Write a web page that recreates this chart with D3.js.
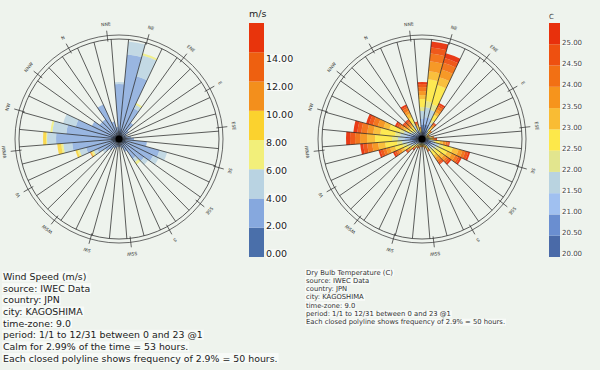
<!DOCTYPE html>
<html>
<head>
<meta charset="utf-8">
<script src="https://cdn.jsdelivr.net/npm/d3@7"></script>
<style>
  body { margin: 0; background: #eef3ed; }
  svg { display: block; font-family: "DejaVu Sans", Verdana, sans-serif; }
</style>
</head>
<body>
<div id="chart"></div>
<script>
// wind directions (deg), one petal each
var directions = [0, 10, 20, 30, 40, 50, 60, 70, 80, 90, 100, 110, 120, 130, 140, 150, 160, 170,
                  180, 190, 200, 210, 220, 230, 240, 250, 260, 270, 280, 290, 300, 310, 320, 330, 340, 350];
var compassLabels = ["N", "NNE", "NE", "ENE", "E", "ESE", "SE", "SSE",
                     "S", "SSW", "SW", "WSW", "W", "WNW", "NW", "NNW"];

// wind speed classes (m/s) 0-2 ... 14-16
var speedTicks = ["0.00", "2.00", "4.00", "6.00", "8.00", "10.00", "12.00", "14.00"];
var speedColors = ["#4a6faa", "#86a8de", "#b9d3e2", "#f2ef7a", "#fbd22e", "#f38f1c", "#ee6010", "#e8340c"];

// dry bulb classes (C) 20.0 ... 25.0
var tempTicks = ["20.00", "20.50", "21.00", "21.50", "22.00", "22.50", "23.00", "23.50", "24.00", "24.50", "25.00"];
var tempColors = ["#4a6aa8", "#6a8ed0", "#a0c0f0", "#b9d3e0", "#e2e58e", "#fde84a",
                  "#f9bc34", "#f6941c", "#f27014", "#ee5010", "#e8300c"];

// hours per speed class, per direction
var windHours = [
  [3, 16], [2, 7], [2, 4], [4, 23.5, 1], [5, 37.5, 6.5], [4, 28.5, 11, 1], [3, 14, 2, 1], [2.5, 7.5],
  [2, 4], [1.5, 2.5], [1.5, 2.5], [2, 4], [2.5, 5], [3, 11], [4, 17, 4], [4, 15, 3], [3.5, 12, 2.5],
  [3, 9, 2, 1.5], [2, 5], [2, 3], [1.5, 2.5], [1.5, 2.5], [1.5, 2.5], [1.5, 3.5], [1.5, 3.5], [2, 5],
  [2.5, 6, 1.5], [3, 9, 2, 1, 0.5, 0.5], [3.5, 13.5, 3.5, 1, 1], [4, 19.5, 4.5, 1, 2],
  [4, 27.5, 4.5, 0.5, 1.5], [4, 22.5, 7, 1], [3.5, 19, 6.5], [3, 12], [2.5, 9.5], [2.5, 9.5]
];

// hours per temperature class, per direction
var tempHours = [
  [2, 2, 1.5, 2, 1.5, 3, 2, 1.5, 1.5, 1, 1],
  [1.5, 1, 1, 1, 0.5, 1, 1, 0.5, 0.5, 0.5, 0.5],
  [1, 1, 0.5, 0.5, 0.5, 1, 0.5, 0.5, 0.5],
  [3.5, 3.5, 3, 4, 2, 4, 2, 2, 2, 1.5, 1],
  [4, 3.5, 3.5, 5, 3, 11, 4, 5, 4, 3, 3],
  [4, 3.5, 3.5, 4, 3, 10, 4, 4, 3.5, 2.5, 2.5],
  [2.5, 2.5, 2, 2, 1.5, 3, 1.5, 1.5, 1.5, 1, 1],
  [1.5, 1, 1, 1, 0.5, 1.5, 1, 1, 0.5, 0.5, 0.5],
  [1, 1, 0.5, 0.5, 0.5, 1, 0.5, 0.5, 0.5],
  [0.5, 0.5, 0.5, 0.5, 0.5, 0.5, 0.5, 0.5],
  [0.5, 0.5, 0.5, 0.5, 0.5, 0.5, 0.5, 0.5],
  [1, 1, 0.5, 0.5, 0.5, 1, 0.5, 0.5, 0.5],
  [1, 1, 1, 0.5, 0.5, 1, 0.5, 0.5, 0.5, 0.5, 0.5],
  [2, 1.5, 1, 1.5, 1, 2, 1.5, 1.5, 1, 0.5, 0.5],
  [2.5, 2.5, 2, 2, 2, 5, 3, 2, 1.5, 1.5, 1],
  [2.5, 2, 1.5, 2, 2, 4, 2.5, 2, 1.5, 1, 1],
  [2, 2, 1.5, 1.5, 1.5, 3, 2, 1.5, 1, 1, 1],
  [2, 1.5, 1.5, 1, 1.5, 2.5, 1.5, 1.5, 1, 1, 0.5],
  [1, 1, 1, 0.5, 0.5, 1, 0.5, 0.5, 0.5, 0.5],
  [1, 0.5, 0.5, 0.5, 0.5, 0.5, 0.5, 0.5, 0.5],
  [0.5, 0.5, 0.5, 0.5, 0.5, 0.5, 0.5, 0.5],
  [0.5, 0.5, 0.5, 0.5, 0.5, 0.5, 0.5, 0.5],
  [0.5, 0.5, 0.5, 0.5, 0.5, 0.5, 0.5, 0.5],
  [1, 0.5, 0.5, 0.5, 0.5, 0.5, 0.5, 0.5, 0.5],
  [1, 0.5, 0.5, 0.5, 0.5, 0.5, 0.5, 0.5, 0.5],
  [1, 1, 0.5, 0.5, 0.5, 1, 0.5, 0.5, 0.5, 0.5, 0.5],
  [1.5, 1, 1, 1, 1, 1, 1, 1, 0.5, 0.5, 0.5],
  [2, 1.5, 1.5, 1.5, 1.5, 2, 1.5, 1.5, 1, 1, 1],
  [2.5, 2, 1.5, 2, 2, 4, 2.5, 2, 1.5, 1.5, 1],
  [2.5, 2.5, 2, 3, 2.5, 6, 3.5, 3, 2.5, 2, 1.5],
  [3, 3, 2.5, 3.5, 3, 8.5, 4, 3.5, 2.5, 2.5, 2],
  [3, 2.5, 2.5, 3, 2.5, 7.5, 3.5, 3, 3, 2, 2],
  [2.5, 2.5, 2, 2.5, 2, 5.5, 3, 3, 2.5, 2, 1.5],
  [2, 1.5, 1, 1.5, 1, 2, 1.5, 1.5, 1, 1, 1],
  [1.5, 1.5, 1, 1, 1, 1.5, 1, 1, 1, 1, 0.5],
  [1.5, 1, 1, 1, 1, 2, 1, 1, 1, 1, 0.5]
];

var windText = ["Wind Speed (m/s)", "source: IWEC Data", "country: JPN", "city: KAGOSHIMA",
  "time-zone: 9.0", "period: 1/1 to 12/31 between 0 and 23 @1",
  "Calm for 2.99% of the time = 53 hours.",
  "Each closed polyline shows frequency of 2.9% = 50 hours."];
var tempText = ["Dry Bulb Temperature (C)", "source: IWEC Data", "country: JPN", "city: KAGOSHIMA",
  "time-zone: 9.0", "period: 1/1 to 12/31 between 0 and 23 @1",
  "Each closed polyline shows frequency of 2.9% = 50 hours."];

var svgWidth = 600, svgHeight = 370;
var rot = -29.5;      // the rose is drawn turned in the viewport
var ringR = 100;

var svg = d3.select("#chart").append("svg")
  .attr("width", svgWidth)
  .attr("height", svgHeight);

var rScale = d3.scaleLinear().domain([0, 50]).range([0, ringR]);
var rad = function(deg) { return deg * Math.PI / 180; };

function drawRose(cx, cy, hours, colors, opacity) {
  var g = svg.append("g").attr("transform", "translate(" + cx + "," + cy + ")");
  var keys = colors.map(function(c, j) { return "c" + j; });
  var rows = directions.map(function(d, i) {
    var o = { dir: d };
    keys.forEach(function(k, j) { o[k] = hours[i][j] || 0; });
    return o;
  });
  var series = d3.stack().keys(keys)(rows);

  var arc = d3.arc()
    .innerRadius(function(d) { return rScale(d[0]); })
    .outerRadius(function(d) { return rScale(d[1]); })
    .startAngle(function(d) { return rad(d.data.dir + rot - 5); })
    .endAngle(function(d) { return rad(d.data.dir + rot + 5); });

  series.forEach(function(s, j) {
    g.append("g").selectAll("path")
      .data(s.filter(function(d) { return d[1] > d[0]; }))
      .enter()
      .append("path")
      .attr("d", arc)
      .attr("fill", colors[j])
      .attr("fill-opacity", opacity);
  });

  // spokes between direction bins
  g.selectAll(".spoke")
    .data(directions)
    .enter()
    .append("line")
    .attr("x1", 0).attr("y1", 0)
    .attr("x2", function(d) { return ringR * Math.sin(rad(d + rot - 5)); })
    .attr("y2", function(d) { return -ringR * Math.cos(rad(d + rot - 5)); })
    .attr("stroke", "#1a1a1a")
    .attr("stroke-width", 0.7);

  g.append("circle").attr("r", ringR).attr("fill", "none").attr("stroke", "#333").attr("stroke-width", 0.8);
  g.append("circle").attr("r", ringR + 4).attr("fill", "none").attr("stroke", "#444").attr("stroke-width", 0.8);
  g.append("circle").attr("r", 3.5).attr("fill", "#000");

  var lab = g.selectAll(".compass")
    .data(compassLabels)
    .enter()
    .append("g")
    .attr("transform", function(d, i) { return "rotate(" + (i * 22.5 + rot + 0.5) + ")"; });
  lab.append("line")
    .attr("y1", -ringR + 2).attr("y2", -ringR - 9)
    .attr("stroke", "#333").attr("stroke-width", 0.7);
  lab.append("text")
    .attr("y", -ringR - 14)
    .attr("text-anchor", "middle")
    .attr("font-size", "4.5px")
    .attr("fill", "#333")
    .text(function(d) { return d; });
}

drawRose(119, 139, windHours, speedColors, 0.82);
drawRose(422, 139, tempHours, tempColors, 0.95);

// legends
function drawLegend(x, w, colors, ticks, unit, fontSize, labelTop, labelColor, unitY) {
  var band = d3.scaleLinear().domain([0, colors.length]).range([257, 23]);
  var g = svg.append("g");
  g.selectAll("rect")
    .data(colors)
    .enter()
    .append("rect")
    .attr("x", x)
    .attr("y", function(d, i) { return band(i + 1); })
    .attr("width", w)
    .attr("height", function(d, i) { return band(i) - band(i + 1); })
    .attr("fill", function(d) { return d; });

  var ly = d3.scaleLinear().domain([0, ticks.length - 1]).range([254, labelTop]);
  var t = g.selectAll(".tick")
    .data(ticks)
    .enter()
    .append("g");
  var txt = t.append("text")
    .attr("x", x + w + 2)
    .attr("y", function(d, i) { return ly(i); })
    .attr("dy", "0.35em")
    .attr("font-size", fontSize + "px")
    .attr("fill", labelColor)
    .text(function(d) { return d; });
  txt.each(function() {
    var b = this.getBBox();
    d3.select(this.parentNode).insert("rect", "text")
      .attr("x", b.x).attr("y", b.y + 1).attr("width", b.width).attr("height", b.height - 2)
      .attr("fill", "#fff").attr("fill-opacity", 0.6);
  });

  g.append("text")
    .attr("x", x)
    .attr("y", unitY)
    .attr("dy", "0.35em")
    .attr("font-size", fontSize + "px")
    .attr("fill", labelColor)
    .text(unit);
}

drawLegend(249, 15, speedColors, speedTicks, "m/s", 9.5, 59, "#222", 13.5);
drawLegend(549, 11, tempColors, tempTicks, "C", 7, 42.7, "#444", 16.5);

// description blocks
function drawText(lines, x, y0, step, fontSize, color) {
  var g = svg.append("g");
  var t = g.selectAll("g")
    .data(lines)
    .enter()
    .append("g");
  t.append("text")
    .attr("x", x)
    .attr("y", function(d, i) { return y0 + i * step; })
    .attr("dy", "0.35em")
    .attr("font-size", fontSize + "px")
    .attr("fill", color)
    .text(function(d) { return d; });
  t.select("text").each(function() {
    var b = this.getBBox();
    d3.select(this.parentNode).insert("rect", "text")
      .attr("x", b.x - 1).attr("y", b.y + 0.5).attr("width", b.width + 2).attr("height", b.height - 1)
      .attr("fill", "#fff").attr("fill-opacity", 0.55);
  });
}

drawText(windText, 3, 276.7, 11.65, 9.4, "#222");
drawText(tempText, 306, 272.3, 8.25, 6.8, "#333");
</script>
</body>
</html>
